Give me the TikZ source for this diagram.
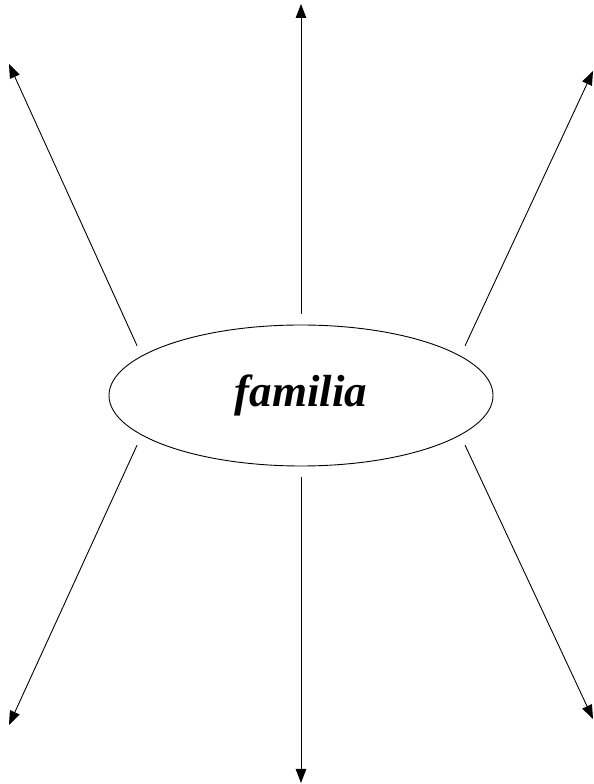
\documentclass[tikz,border=0pt]{standalone}
\usepackage{fontspec}
\setmainfont{Liberation Serif}
\usetikzlibrary{arrows.meta, shapes.geometric}

\begin{document}
\begin{tikzpicture}[x=1pt, y=1pt, line width=0.9pt,
	ray/.style={-{Triangle[length=14pt, width=10.5pt]}, shorten <=11pt}]
	\useasboundingbox (0,0) rectangle (594,784);
	\node [draw, ellipse, minimum width=384pt, minimum height=141pt, inner sep=0pt] (fam) at (301,388.5)
		{\fontsize{45}{50}\selectfont\bfseries\itshape familia};
	\coordinate (top) at (301,780);
	\coordinate (bot) at (301,1);
	\coordinate (tl) at (9,720);
	\coordinate (tr) at (593,713);
	\coordinate (bl) at (9,59);
	\coordinate (br) at (593,65);
	\draw [ray] (fam.north) -- (top);
	\draw [ray] (fam.south) -- (bot);
	\draw [ray] (fam.166) -- (tl);
	\draw [ray] (fam.14) -- (tr);
	\draw [ray] (fam.194) -- (bl);
	\draw [ray] (fam.-14) -- (br);
\end{tikzpicture}
\end{document}
